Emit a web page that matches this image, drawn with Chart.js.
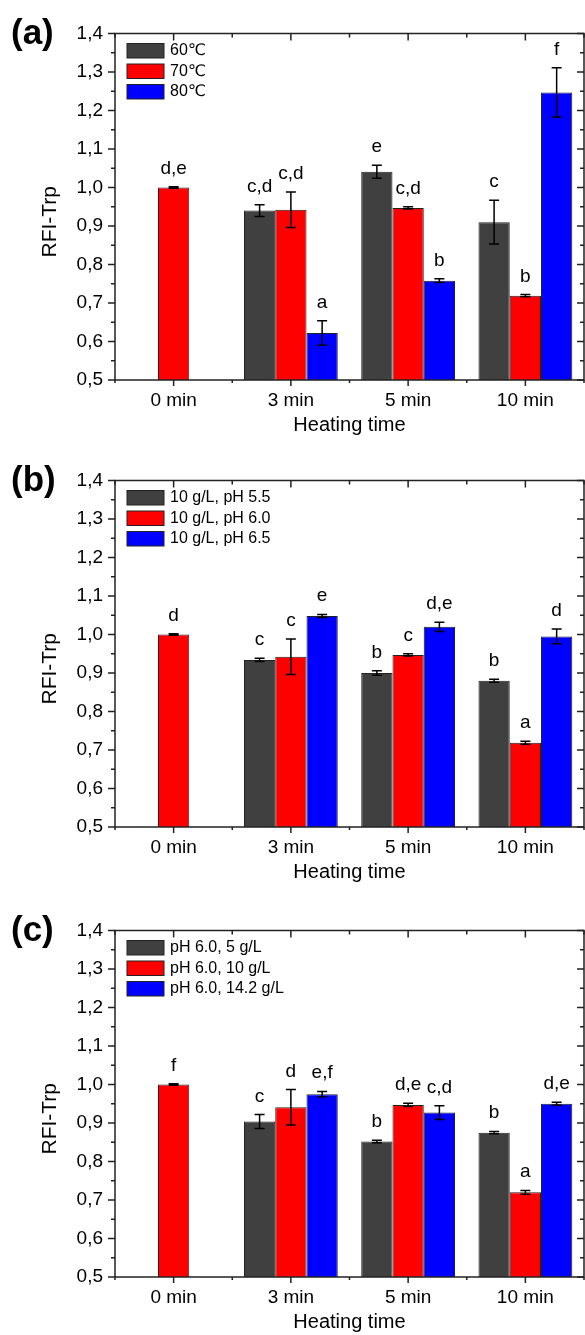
<!DOCTYPE html>
<html>
<head>
<meta charset="utf-8">
<script src="https://cdn.jsdelivr.net/npm/chart.js@4/dist/chart.umd.min.js"></script>
<style>
  body { margin: 0; background: #fff; }
  canvas { display: block; }
</style>
</head>
<body>
<canvas id="chartA" width="585" height="447"></canvas>
<canvas id="chartB" width="585" height="450"></canvas>
<canvas id="chartC" width="585" height="438"></canvas>
<script>
const categories = ['0 min', '3 min', '5 min', '10 min'];

// (a) temperature
const namesA = ['60℃', '70℃', '80℃'];
const a60 = [null, 0.940, 1.041, 0.910];
const a70 = [1.000, 0.942, 0.947, 0.719];
const a80 = [null, 0.622, 0.758, 1.247];
const a60Err = [null, 0.015, 0.017, 0.057];
const a70Err = [0.002, 0.046, 0.003, 0.003];
const a80Err = [null, 0.032, 0.005, 0.064];
const a60Sig = [null, 'c,d', 'e', 'c'];
const a70Sig = ['d,e', 'c,d', 'c,d', 'b'];
const a80Sig = [null, 'a', 'b', 'f'];

// (b) pH
const namesB = ['10 g/L, pH 5.5', '10 g/L, pH 6.0', '10 g/L, pH 6.5'];
const b55 = [null, 0.934, 0.900, 0.880];
const b60 = [1.000, 0.942, 0.947, 0.719];
const b65 = [null, 1.048, 1.020, 0.995];
const b55Err = [null, 0.004, 0.006, 0.004];
const b60Err = [0.002, 0.046, 0.003, 0.004];
const b65Err = [null, 0.004, 0.012, 0.019];
const b55Sig = [null, 'c', 'b', 'b'];
const b60Sig = ['d', 'c', 'c', 'a'];
const b65Sig = [null, 'e', 'd,e', 'd'];

// (c) concentration
const namesC = ['pH 6.0, 5 g/L', 'pH 6.0, 10 g/L', 'pH 6.0, 14.2 g/L'];
const c5 = [null, 0.904, 0.852, 0.875];
const c10 = [1.000, 0.941, 0.947, 0.720];
const c14 = [null, 0.975, 0.927, 0.950];
const c5Err = [null, 0.018, 0.003, 0.003];
const c10Err = [0.002, 0.046, 0.004, 0.005];
const c14Err = [null, 0.007, 0.018, 0.004];
const c5Sig = [null, 'c', 'b', 'b'];
const c10Sig = ['f', 'd', 'd,e', 'a'];
const c14Sig = [null, 'e,f', 'c,d', 'd,e'];

const yTicks = [0.5, 0.6, 0.7, 0.8, 0.9, 1.0, 1.1, 1.2, 1.3, 1.4];

const barColors = ['#404040', '#ff0000', '#0000ff'];
const FONT = '"Liberation Sans", Arial, "DejaVu Sans", sans-serif';
const INK = '#222';
const PLOT_TOP = 33.5, PLOT_H = 346.5, PLOT_LEFT = 115;

const deco = {
  id: 'deco',
  afterDatasetsDraw(chart, args, opts) {
    const { ctx, chartArea: a, scales: { x, y } } = chart;
    ctx.save();

    // error bars and significance letters
    chart.data.datasets.forEach((ds, i) => {
      const meta = chart.getDatasetMeta(i);
      meta.data.forEach((bar, j) => {
        const v = ds.data[j];
        if (v == null) return;
        const e = ds.err[j];
        const top = y.getPixelForValue(v + e);
        const bot = y.getPixelForValue(v - e);
        ctx.strokeStyle = '#000';
        ctx.lineWidth = 1.5;
        ctx.beginPath();
        ctx.moveTo(bar.x, top); ctx.lineTo(bar.x, bot);
        ctx.moveTo(bar.x - 5, top); ctx.lineTo(bar.x + 5, top);
        ctx.moveTo(bar.x - 5, bot); ctx.lineTo(bar.x + 5, bot);
        ctx.stroke();
        ctx.fillStyle = '#000';
        ctx.font = '19px ' + FONT;
        ctx.textAlign = 'center';
        ctx.textBaseline = 'alphabetic';
        ctx.fillText(ds.sig[j], bar.x, top - 13);
      });
    });

    // frame
    ctx.strokeStyle = INK;
    ctx.lineWidth = 1.5;
    ctx.strokeRect(a.left, a.top, a.right - a.left, a.bottom - a.top);

    // y ticks: major outward on the left, mirrored inward on the right
    ctx.beginPath();
    for (let k = 0; k <= 18; k++) {
      const py = y.getPixelForValue(0.5 + k * 0.05);
      const len = k % 2 === 0 ? 7 : 4;
      ctx.moveTo(a.left - len, py); ctx.lineTo(a.left, py);
      ctx.moveTo(a.right - len, py); ctx.lineTo(a.right, py);
    }
    // x ticks at centres (major) and between groups (minor)
    const w = (a.right - a.left) / categories.length;
    categories.forEach((c, i) => {
      const px = x.getPixelForValue(i);
      ctx.moveTo(px, a.bottom); ctx.lineTo(px, a.bottom + 6);
      ctx.moveTo(px, a.top); ctx.lineTo(px, a.top + 7);
    });
    for (let k = 0; k <= categories.length; k++) {
      const px = a.left + k * w;
      ctx.moveTo(px, a.bottom); ctx.lineTo(px, a.bottom + 3);
      ctx.moveTo(px, a.top); ctx.lineTo(px, a.top + 4);
    }
    ctx.stroke();

    // legend
    ctx.font = '16px ' + FONT;
    ctx.textAlign = 'left';
    ctx.textBaseline = 'middle';
    chart.data.datasets.forEach((ds, i) => {
      const bx = a.left + 12, by = a.top + 10 + i * 20.5;
      ctx.fillStyle = ds.backgroundColor;
      ctx.fillRect(bx, by, 37, 14.5);
      ctx.lineWidth = 1;
      ctx.strokeStyle = INK;
      ctx.strokeRect(bx, by, 37, 14.5);
      ctx.fillStyle = '#000';
      ctx.fillText(ds.label, bx + 43, by + 7.5);
    });

    // axis titles
    ctx.font = '20px ' + FONT;
    ctx.textAlign = 'center';
    ctx.fillText('Heating time', (a.left + a.right) / 2, a.bottom + 45);
    ctx.save();
    ctx.translate(50.5, (a.top + a.bottom) / 2 + 15);
    ctx.rotate(-Math.PI / 2);
    ctx.font = '21px ' + FONT;
    ctx.fillText('RFI-Trp', 0, 0);
    ctx.restore();

    // panel tag
    ctx.font = 'bold 35px ' + FONT;
    ctx.textAlign = 'left';
    ctx.textBaseline = 'alphabetic';
    ctx.fillText(opts.tag, 11, a.top + 10.5);

    ctx.restore();
  }
};

function makeChart(id, tag, names, values, errors, letters) {
  const canvas = document.getElementById(id);
  const xAxisH = canvas.height - PLOT_TOP - PLOT_H;
  return new Chart(canvas, {
    type: 'bar',
    data: {
      labels: categories,
      datasets: names.map((n, i) => ({
        label: n,
        data: values[i],
        err: errors[i],
        sig: letters[i],
        backgroundColor: barColors[i],
        borderColor: INK,
        borderWidth: 1,
        categoryPercentage: 0.8,
        barPercentage: 1
      }))
    },
    options: {
      responsive: false,
      animation: false,
      layout: { padding: { top: PLOT_TOP, right: 1, left: 0, bottom: 0 } },
      plugins: {
        legend: { display: false },
        tooltip: { enabled: false },
        deco: { tag: tag }
      },
      scales: {
        x: {
          grid: { display: false, drawTicks: false },
          border: { display: false },
          ticks: { color: '#000', font: { family: FONT, size: 19 }, padding: 9 },
          afterFit: s => { s.height = xAxisH; }
        },
        y: {
          min: 0.5,
          max: 1.4,
          grid: { display: false, drawTicks: false },
          border: { display: false },
          afterBuildTicks: s => { s.ticks = yTicks.map(v => ({ value: v })); },
          ticks: {
            color: '#000',
            font: { family: FONT, size: 19 },
            padding: 12,
            callback: v => v.toFixed(1).replace('.', ',')
          },
          afterFit: s => { s.width = PLOT_LEFT; }
        }
      }
    },
    plugins: [deco]
  });
}

makeChart('chartA', '(a)', namesA, [a60, a70, a80], [a60Err, a70Err, a80Err], [a60Sig, a70Sig, a80Sig]);
makeChart('chartB', '(b)', namesB, [b55, b60, b65], [b55Err, b60Err, b65Err], [b55Sig, b60Sig, b65Sig]);
makeChart('chartC', '(c)', namesC, [c5, c10, c14], [c5Err, c10Err, c14Err], [c5Sig, c10Sig, c14Sig]);
</script>
</body>
</html>
